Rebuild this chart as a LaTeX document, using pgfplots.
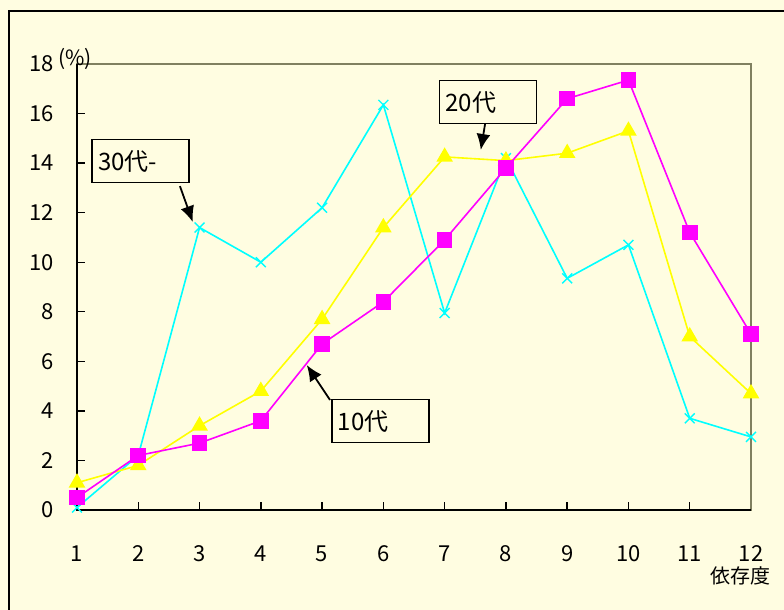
\documentclass[border=0pt]{standalone}
\usepackage{pgfplots}
\pgfplotsset{compat=1.18}
\usepackage{fontspec}
\setmainfont{Noto Sans CJK JP}
\usetikzlibrary{arrows.meta}

\definecolor{bg}{HTML}{FFFDE1}
\definecolor{frameolive}{HTML}{808060}
\definecolor{mag}{HTML}{FF00FF}
\definecolor{yel}{HTML}{FFFF00}
\definecolor{cya}{HTML}{00FFFF}

\begin{document}
\begin{tikzpicture}[x=1bp,y=1bp]
% page area, 1px = 1bp, axis box lower-left at (0,0)
\path[use as bounding box, fill=bg] (-77,-100) rectangle (707,510);
\draw[line width=1.6bp] (-68,-120) -- (-68,499) -- (730,499);

\begin{axis}[
    scale only axis,
    width=674bp, height=446bp,
    xmin=1, xmax=12,
    ymin=0, ymax=18,
    xtick={1,...,12},
    ytick={0,2,...,18},
    tick pos=left,
    tick align=inside,
    major tick length=8bp,
    tick style={black, line width=1.4bp},
    axis line style={frameolive, line width=1.4bp},
    axis background/.style={fill=bg},
    ticklabel style={font=\fontsize{22bp}{24bp}\selectfont},
    xticklabel style={yshift=-32bp},
    yticklabel style={xshift=-20bp},
    /pgf/number format/assume math mode=true,
    clip=false,
]

% black left and bottom axis lines
\draw[black, line width=1.8bp] (rel axis cs:0,1) -- (rel axis cs:0,0) -- (rel axis cs:1,0);

% 30代- (cyan, x marks)
\addplot[cya, line width=1.6bp, mark=x, mark size=7bp,
    mark options={line width=1.4bp}] coordinates {
    (1, 0.1) (2, 2.2) (3, 11.4) (4, 10.0) (5, 12.2) (6, 16.35)
    (7, 7.95) (8, 14.2) (9, 9.35) (10, 10.7) (11, 3.7) (12, 2.95)
};

% 20代 (yellow, triangles)
\addplot[yel, line width=1.6bp, mark=triangle*, mark size=8bp,
    mark options={fill=yel, draw=yel}] coordinates {
    (1, 1.1) (2, 1.8) (3, 3.4) (4, 4.8) (5, 7.7) (6, 11.4)
    (7, 14.25) (8, 14.1) (9, 14.4) (10, 15.3) (11, 7.0) (12, 4.7)
};

% 10代 (magenta, squares)
\addplot[mag, line width=1.6bp, mark=square*, mark size=7bp,
    mark options={fill=mag, draw=mag}] coordinates {
    (1, 0.5) (2, 2.2) (3, 2.7) (4, 3.6) (5, 6.7) (6, 8.4)
    (7, 10.9) (8, 13.8) (9, 16.6) (10, 17.35) (11, 11.2) (12, 7.1)
};

% callouts
\tikzset{callout/.style={draw=black, line width=1.6bp, fill=bg,
    text width=85bp, align=left, minimum height=43bp,
    inner xsep=6bp, inner ysep=2bp,
    font=\fontsize{24bp}{28bp}\selectfont},
    callarrow/.style={black, line width=1.8bp,
    -{Latex[length=16bp, width=14bp]}}}
\node[callout] at (axis cs:2.04,14.08) {30代-};
\draw[callarrow] (axis cs:2.68,13.07) -- (axis cs:2.89,11.62);
\node[callout] at (axis cs:7.71,16.46) {20代};
\draw[callarrow] (axis cs:7.66,15.58) -- (axis cs:7.59,14.53);
\node[callout] at (axis cs:5.95,3.59) {10代};
\draw[callarrow] (axis cs:5.13,4.44) -- (axis cs:4.75,5.85);

% unit labels
\node[anchor=south west, inner sep=0pt, font=\fontsize{21bp}{24bp}\selectfont]
    at ([xshift=-19bp, yshift=-6bp]rel axis cs:0,1) {(\%)};
\node[anchor=north east, inner sep=0pt, font=\fontsize{20bp}{22bp}\selectfont]
    at ([xshift=20bp, yshift=-57bp]rel axis cs:1,0) {依存度};
\end{axis}
\end{tikzpicture}
\end{document}
